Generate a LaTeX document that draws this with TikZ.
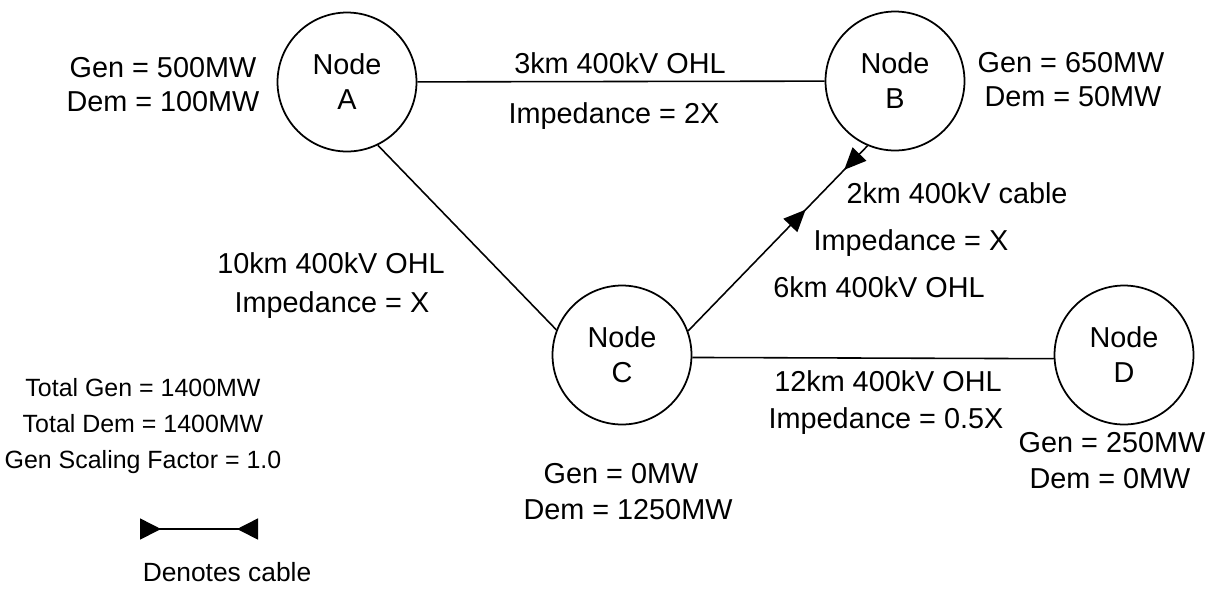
\documentclass[tikz,border=0pt]{standalone}
\usepackage{fontspec}
\setmainfont{Liberation Sans}
\usetikzlibrary{arrows.meta,decorations.markings}
\tikzset{
  bus/.style={circle,draw,line width=1pt,minimum size=2.78cm,inner sep=0pt,align=center,
    font=\fontsize{16.4}{19.9}\selectfont},
  lbl/.style={anchor=base,inner sep=0pt,font=\fontsize{16.4}{19.7}\selectfont},
  smalllbl/.style={lbl,font=\fontsize{14.2}{17}\selectfont},
  leglbl/.style={lbl,font=\fontsize{15}{18}\selectfont},
  wire/.style={line width=0.9pt},
  cablewire/.style={wire,decoration={markings,
     mark=at position 0.655 with {\arrow{Triangle[length=0.44cm,width=0.38cm]}},
     mark=at position 0.87 with {\arrowreversed{Triangle[length=0.44cm,width=0.38cm]}}},
     postaction={decorate}}
}
\begin{document}
\begin{tikzpicture}[x=0.02cm,y=-0.02cm]
\useasboundingbox (0,0) rectangle (1209,603);
% buses
\node[bus] (A) at (347,82) {Node\\A};
\node[bus] (B) at (895,81) {Node\\B};
\node[bus] (C) at (622,355) {Node\\C};
\node[bus] (D) at (1124,355) {Node\\D};
% lines
\draw[wire] (A) -- (B);
\draw[wire] (A.-64) -- (C.159);
\draw[cablewire] (C.20) -- (B.-113);
\draw[wire] (C.-2.5) -- (D.-177.5);
% labels
\node[lbl] (ga) at (163,77) {Gen = 500MW};
\node[lbl] (da) at (163,111) {Dem = 100MW};
\node[lbl] (ab1) at (620,73) {3km 400kV OHL};
\node[lbl] (ab2) at (614,123) {Impedance = 2X};
\node[lbl] (gb) at (1071,72) {Gen = 650MW};
\node[lbl] (db) at (1073,106) {Dem = 50MW};
\node[lbl] (cb1) at (957,203) {2km 400kV cable};
\node[lbl] (cb2) at (911,250) {Impedance = X};
\node[lbl] (cb3) at (879,297) {6km 400kV OHL};
\node[lbl] (ac1) at (331,273) {10km 400kV OHL};
\node[lbl] (ac2) at (332,312) {Impedance = X};
\node[lbl] (cd1) at (888,391) {12km 400kV OHL};
\node[lbl] (cd2) at (886,428) {Impedance = 0.5X};
\node[lbl] (gd) at (1112,452) {Gen = 250MW};
\node[lbl] (dd) at (1110,488) {Dem = 0MW};
\node[lbl] (gc) at (621,483) {Gen = 0MW};
\node[lbl] (dc) at (628,519) {Dem = 1250MW};
\node[smalllbl] (t1) at (143,396) {Total Gen = 1400MW};
\node[smalllbl] (t2) at (143,432) {Total Dem = 1400MW};
\node[smalllbl] (t3) at (143,468) {Gen Scaling Factor = 1.0};
% legend
\coordinate (L1) at (140,529);
\coordinate (L2) at (258,529);
\draw[wire,{Triangle[reversed,length=0.42cm,width=0.42cm]}-{Triangle[reversed,length=0.42cm,width=0.42cm]}] (L1) -- (L2);
\node[leglbl] (leg) at (227,581) {Denotes cable};
\end{tikzpicture}
\end{document}
